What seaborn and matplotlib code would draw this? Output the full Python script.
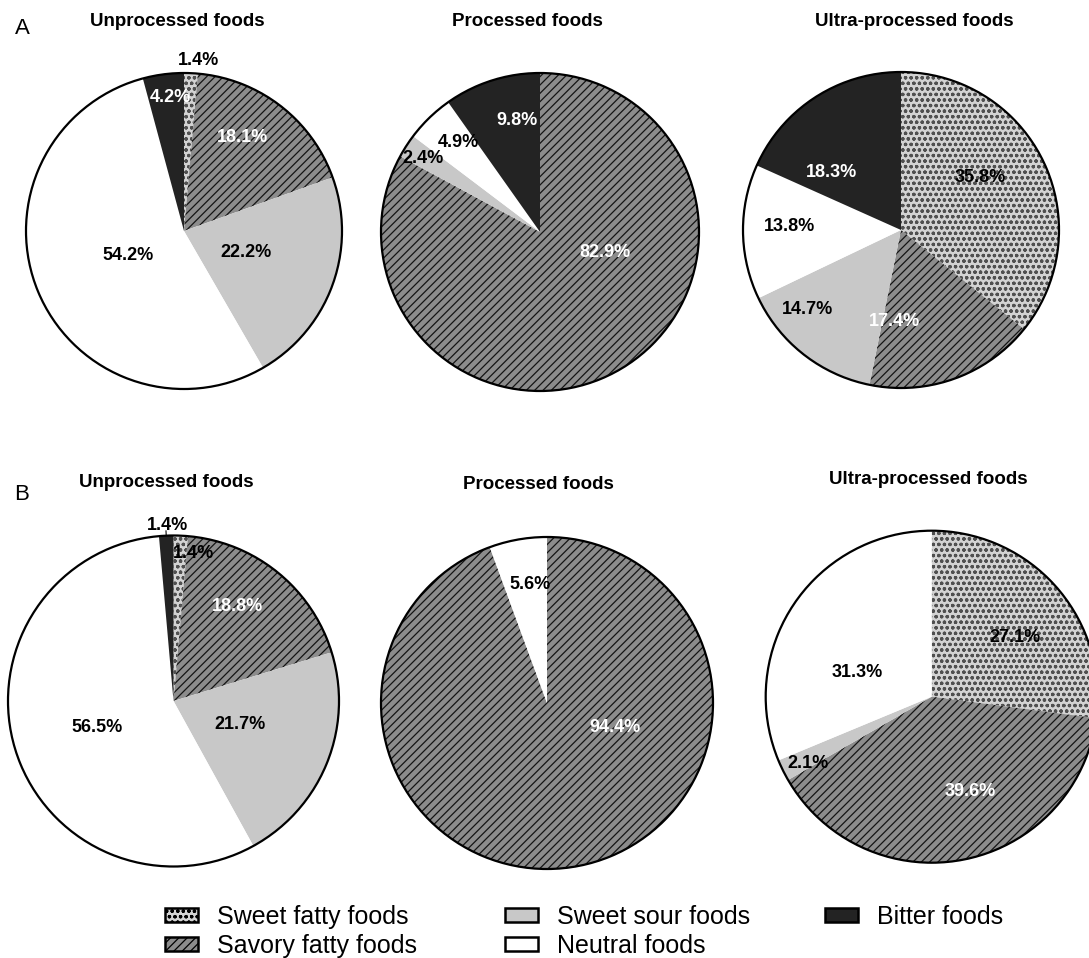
import numpy as np
import matplotlib
matplotlib.use("Agg")
import matplotlib.pyplot as plt
from matplotlib.patches import Patch
import seaborn as sns

sns.set_theme(style="white")
plt.rcParams["font.family"] = ["Liberation Sans", "DejaVu Sans"]
plt.rcParams["text.color"] = "black"
plt.rcParams["hatch.linewidth"] = 0.9

# ---- data -------------------------------------------------------------
categories = ["Sweet fatty foods", "Savory fatty foods", "Sweet sour foods",
              "Neutral foods", "Bitter foods"]
food_groups = ["Unprocessed foods", "Processed foods", "Ultra-processed foods"]
panel_letters = ["A", "B"]

# share of each taste category (%), in the order of `categories`
a_unprocessed = [1.4, 18.1, 22.2, 54.2, 4.2]
a_processed = [0.0, 82.9, 2.4, 4.9, 9.8]
a_ultra = [35.8, 17.4, 14.7, 13.8, 18.3]
b_unprocessed = [1.4, 18.8, 21.7, 56.5, 1.4]
b_processed = [0.0, 94.4, 0.0, 5.6, 0.0]
b_ultra = [27.1, 39.6, 2.1, 31.3, 0.0]

# ---- styling ----------------------------------------------------------
face = ["#d3d3d3", "#8c8c8c", "#c8c8c8", "#ffffff", "#232323"]
hatches = ["ooo", "////", "", "", ""]
hatch_ink = ["#505050", "#141414", "#c8c8c8", "#ffffff", "#232323"]
text_ink = ["black", "white", "black", "black", "white"]

W, H = 1089, 958
fig = plt.figure(figsize=(W / 100, H / 100), dpi=100)
ax = fig.add_axes([0, 0, 1, 1])

# pie layout in pixels (centre x, centre y from top, radius)
layout = {
    ("A", 0): (184, 231, 158),
    ("A", 1): (540, 232, 159),
    ("A", 2): (901, 230, 158),
    ("B", 0): (173.5, 701, 165.5),
    ("B", 1): (547, 703, 166),
    ("B", 2): (931.7, 696.7, 166),
}
# label offsets relative to the pie centre, in units of the radius
label_pos = {
    ("A", 0): [(0.089, 1.082), (0.373, 0.589), (0.392, -0.133), (-0.354, -0.152), (-0.089, 0.842)],
    ("A", 1): [None, (0.409, -0.132), (-0.736, 0.465), (-0.516, 0.566), (-0.145, 0.704)],
    ("A", 2): [(0.50, 0.335), (-0.038, -0.582), (-0.589, -0.50), (-0.703, 0.019), (-0.443, 0.361)],
    ("B", 0): [(0.118, 0.894), (0.384, 0.568), (0.402, -0.145), (-0.462, -0.163), (-0.039, 1.063)],
    ("B", 1): [None, (0.41, -0.145), None, (-0.102, 0.711), None],
    ("B", 2): [(0.502, 0.354), (0.231, -0.574), (-0.745, -0.40), (-0.45, 0.143), None],
}
outside = {(("A", 0), 0), (("B", 0), 4)}
leader = {(("B", 0), 4)}
title_pos = {
    ("A", 0): (177, 22), ("A", 1): (527, 22), ("A", 2): (914, 22),
    ("B", 0): (166, 483), ("B", 1): (538, 485), ("B", 2): (928, 479),
}
letter_pos = {"A": (22, 28), "B": (22, 495)}

series = {
    ("A", 0): a_unprocessed, ("A", 1): a_processed, ("A", 2): a_ultra,
    ("B", 0): b_unprocessed, ("B", 1): b_processed, ("B", 2): b_ultra,
}

for key, values in series.items():
    cx, cy, r = layout[key]
    cy_up = H - cy
    wedges, _ = ax.pie(values, center=(cx, cy_up), radius=r, startangle=90,
                       counterclock=False, colors=face, frame=True,
                       wedgeprops=dict(linewidth=0))
    for w, h, ink in zip(wedges, hatches, hatch_ink):
        w.set_edgecolor(ink)
        w.set_hatch(h)
        w.set_linewidth(0)
    # outer outline
    ax.pie([sum(values)], center=(cx, cy_up), radius=r, startangle=90,
           frame=True, wedgeprops=dict(fill=False, edgecolor="black", linewidth=1.6))

    total = sum(values)
    cum = 0.0
    for i, v in enumerate(values):
        pos = label_pos[key][i]
        if v > 0 and pos is not None:
            ox, oy = pos
            color = "black" if (key, i) in outside else text_ink[i]
            ax.text(cx + ox * r, cy_up + oy * r, f"{v:.1f}%", ha="center", va="center",
                    fontsize=13, fontweight="bold", color=color)
            if (key, i) in leader:
                ang = np.deg2rad(90 - 360 * (cum + v / 2) / total)
                ax.plot([cx + r * np.cos(ang), cx + 1.03 * r * np.cos(ang)],
                        [cy_up + r * np.sin(ang), cy_up + 1.03 * r * np.sin(ang)],
                        color="black", lw=0.8)
        cum += v

    tx, ty = title_pos[key]
    fig.text(tx / W, 1 - ty / H, food_groups[key[1]], ha="center", va="center",
             fontsize=13.5, fontweight="bold", color="black")

for letter in panel_letters:
    lx, ly = letter_pos[letter]
    fig.text(lx / W, 1 - ly / H, letter, ha="center", va="center", fontsize=16,
             color="black")

ax.set_xlim(0, W)
ax.set_ylim(0, H)
ax.set_aspect("equal")
ax.axis("off")

# legend in three manually placed columns
handles = [Patch(facecolor=f, hatch=h, edgecolor="black", linewidth=1.8)
           for f, h in zip(face, hatches)]
columns = [([0, 1], 165), ([2, 3], 505), ([4], 825)]
for idx, x0 in columns:
    fig.legend([handles[i] for i in idx], [categories[i] for i in idx],
               loc="upper left", bbox_to_anchor=(x0 / W, 1 - 905 / H),
               frameon=False, fontsize=18, labelcolor="black",
               borderpad=0, borderaxespad=0,
               handlelength=1.32, handleheight=0.48, handletextpad=0.76,
               labelspacing=0.2)

fig.savefig("out.png", dpi=100)
